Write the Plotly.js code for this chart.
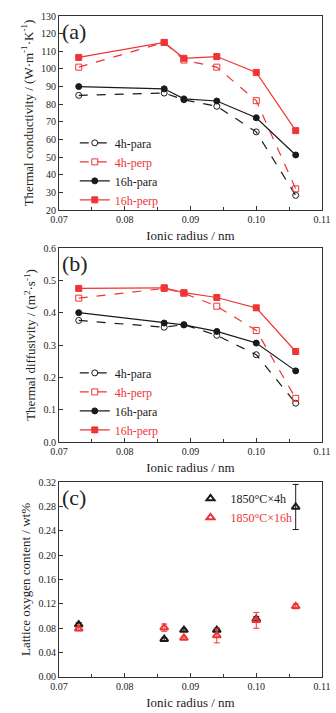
<!DOCTYPE html>
<html>
<head>
<meta charset="utf-8">
<script src="https://cdn.plot.ly/plotly-3.0.1.min.js"></script>
<style>html,body{margin:0;padding:0;background:#fff;}#chart{width:336px;height:713px;}</style>
</head>
<body>
<div id="chart"></div>
<script>
// ---- data ----
var radius = [0.073, 0.086, 0.089, 0.094, 0.100, 0.106];
// (a) thermal conductivity W/(m K)
var tc4hPara  = [85.0, 86.3, 82.5, 78.8, 64.3, 28.3];
var tc4hPerp  = [101.0, 115.0, 105.0, 101.0, 82.0, 32.0];
var tc16hPara = [90.0, 88.7, 83.0, 81.8, 72.3, 51.2];
var tc16hPerp = [106.5, 115.0, 106.0, 107.0, 98.0, 65.0];
// (b) thermal diffusivity
var td4hPara  = [0.376, 0.355, 0.363, 0.330, 0.270, 0.120];
var td4hPerp  = [0.445, 0.475, 0.460, 0.420, 0.345, 0.135];
var td16hPara = [0.400, 0.368, 0.362, 0.342, 0.306, 0.220];
var td16hPerp = [0.475, 0.477, 0.462, 0.447, 0.415, 0.280];
// (c) lattice oxygen content wt%
var ox4h      = [0.086, 0.062, 0.077, 0.077, 0.095, 0.279];
var ox4hErr   = [0.003, 0.002, 0.002, 0.003, 0.004, 0.037];
var ox16h     = [0.079, 0.081, 0.064, 0.068, 0.093, 0.116];
var ox16hErr  = [0.003, 0.006, 0.002, 0.012, 0.013, 0.004];

var RED = '#ee3535', BLK = '#1a1a1a';
var FONT = '"Liberation Serif", "Times New Roman", Times, serif';

function lineSeries(y, name, color, dash, symbol, xa, ya, leg) {
  return {x: radius, y: y, name: name, type: 'scatter', mode: 'lines+markers',
    xaxis: xa, yaxis: ya, legend: leg,
    line: {color: color, width: 1.2, dash: dash},
    marker: {symbol: symbol, size: 6, color: color, line: {color: color, width: 1}}};
}
function lbl(t, c) { return '<span style="color:' + c + '">' + t + '</span>'; }

var traces = [
  lineSeries(tc4hPara, lbl('4h-para', BLK), BLK, 'dash', 'circle-open', 'x', 'y', 'legend'),
  lineSeries(tc4hPerp, lbl('4h-perp', RED), RED, 'dash', 'square-open', 'x', 'y', 'legend'),
  lineSeries(tc16hPara, lbl('16h-para', BLK), BLK, 'solid', 'circle', 'x', 'y', 'legend'),
  lineSeries(tc16hPerp, lbl('16h-perp', RED), RED, 'solid', 'square', 'x', 'y', 'legend'),
  lineSeries(td4hPara, lbl('4h-para', BLK), BLK, 'dash', 'circle-open', 'x2', 'y2', 'legend2'),
  lineSeries(td4hPerp, lbl('4h-perp', RED), RED, 'dash', 'square-open', 'x2', 'y2', 'legend2'),
  lineSeries(td16hPara, lbl('16h-para', BLK), BLK, 'solid', 'circle', 'x2', 'y2', 'legend2'),
  lineSeries(td16hPerp, lbl('16h-perp', RED), RED, 'solid', 'square', 'x2', 'y2', 'legend2'),
  {x: radius, y: ox4h, name: lbl('1850°C×4h', BLK), type: 'scatter', mode: 'markers',
   xaxis: 'x3', yaxis: 'y3', legend: 'legend3',
   error_y: {type: 'data', array: ox4hErr, color: BLK, thickness: 1, width: 3},
   marker: {symbol: 'triangle-up-open', size: 7, color: BLK, line: {color: BLK, width: 2}}},
  {x: radius, y: ox16h, name: lbl('1850°C×16h', RED), type: 'scatter', mode: 'markers',
   xaxis: 'x3', yaxis: 'y3', legend: 'legend3',
   error_y: {type: 'data', array: ox16hErr, color: RED, thickness: 1, width: 3},
   marker: {symbol: 'triangle-up-open', size: 7, color: RED, line: {color: RED, width: 2}}}
];

function xax(anchor) {
  return {anchor: anchor, domain: [0, 1], range: [0.07, 0.11], dtick: 0.01, tick0: 0.07,
    tickformat: '.2f', ticks: 'inside', ticklen: 4, tickcolor: '#333',
    minor: {ticks: 'inside', dtick: 0.005, ticklen: 3, tickcolor: '#333'},
    showline: true, linecolor: '#333', linewidth: 1, mirror: true, showgrid: false, zeroline: false,
    tickfont: {family: FONT, size: 10, color: '#222'},
    title: {text: 'Ionic radius / nm', font: {family: FONT, size: 13, color: '#222'}, standoff: 6}};
}
function yax(anchor, dom, range, dtick, fmt, title) {
  return {anchor: anchor, domain: dom, range: range, dtick: dtick, tickformat: fmt,
    ticks: 'inside', ticklen: 4, tickcolor: '#333',
    showline: true, linecolor: '#333', linewidth: 1, mirror: true, showgrid: false, zeroline: false,
    tickfont: {family: FONT, size: 10, color: '#222'},
    title: {text: title, font: {family: FONT, size: 13, color: '#222'}, standoff: 4}};
}
function leg(x, y) {
  return {x: x, y: y, xanchor: 'left', yanchor: 'top', bgcolor: 'rgba(0,0,0,0)',
    font: {family: FONT, size: 12, color: '#222'}, tracegroupgap: 0, itemwidth: 30};
}

var layout = {
  width: 336, height: 713, paper_bgcolor: '#fff', plot_bgcolor: '#fff',
  margin: {l: 59, r: 14, t: 16, b: 36},
  showlegend: true,
  xaxis: xax('y'), xaxis2: xax('y2'), xaxis3: xax('y3'),
  yaxis: yax('x', [0.7065, 1.0], [20, 130], 10, 'd', 'Thermal conductivity / (W·m<sup>-1</sup>·K<sup>-1</sup>)'),
  yaxis2: yax('x2', [0.3555, 0.649], [0, 0.6], 0.1, '.1f', 'Thermal diffusivity / (m<sup>2</sup>·s<sup>-1</sup>)'),
  yaxis3: yax('x3', [0, 0.295], [0, 0.32], 0.04, '.2f', 'Lattice oxygen content / wt%'),
  legend: leg(0.06, 0.83),
  legend2: leg(0.06, 0.482),
  legend3: leg(0.50, 0.292),
  annotations: [
    {text: '(a)', xref: 'paper', yref: 'paper', x: 0.005, y: 0.998, xanchor: 'left', yanchor: 'top', showarrow: false, font: {family: FONT, size: 22, color: '#222'}},
    {text: '(b)', xref: 'paper', yref: 'paper', x: 0.005, y: 0.647, xanchor: 'left', yanchor: 'top', showarrow: false, font: {family: FONT, size: 22, color: '#222'}},
    {text: '(c)', xref: 'paper', yref: 'paper', x: 0.005, y: 0.293, xanchor: 'left', yanchor: 'top', showarrow: false, font: {family: FONT, size: 22, color: '#222'}}
  ]
};

Plotly.newPlot('chart', traces, layout, {staticPlot: true, displayModeBar: false});
</script>
</body>
</html>
